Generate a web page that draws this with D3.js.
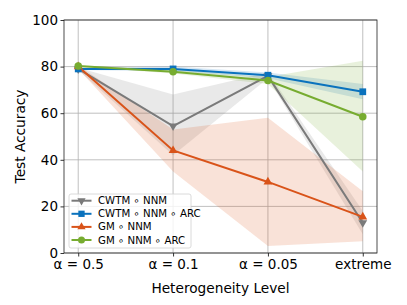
<!DOCTYPE html>
<meta charset="utf-8">
<style>
  body { margin: 0; background: #fff; }
  text { font-family: "DejaVu Sans", sans-serif; fill: #000; }
</style>
<body>
<div id="chart"></div>
<script src="https://cdn.jsdelivr.net/npm/d3@7"></script>
<script>
  const levels = ['α = 0.5', 'α = 0.1', 'α = 0.05', 'extreme'];
  const yTicks = [0, 20, 40, 60, 80, 100];

  const seriesNames = ['CWTM ∘ NNM', 'CWTM ∘ NNM ∘ ARC', 'GM ∘ NNM', 'GM ∘ NNM ∘ ARC'];
  const cwtmMean = [79, 54.5, 76, 13];
  const cwtmLow = [78.5, 42, 75, 8];
  const cwtmHigh = [79.5, 68, 77.5, 18];
  const cwtmArcMean = [79, 79, 76.3, 69.2];
  const cwtmArcLow = [78.5, 78, 75, 66];
  const cwtmArcHigh = [79.5, 80, 77.5, 72.5];
  const gmMean = [80, 44, 30.5, 15.5];
  const gmLow = [79, 35, 3, 5];
  const gmHigh = [80.5, 53, 58, 26.5];
  const gmArcMean = [80.3, 77.8, 74, 58.5];
  const gmArcLow = [80, 77, 72.5, 35];
  const gmArcHigh = [80.6, 78.6, 75.5, 82.5];

  const colors = ['#7a7a7a', '#0a72bd', '#d95319', '#77ac30'];
  const symbols = ['down', 'square', 'triangle', 'circle'];

  const series = [
    { mean: cwtmMean, low: cwtmLow, high: cwtmHigh },
    { mean: cwtmArcMean, low: cwtmArcLow, high: cwtmArcHigh },
    { mean: gmMean, low: gmLow, high: gmHigh },
    { mean: gmArcMean, low: gmArcLow, high: gmArcHigh }
  ].map((s, i) => ({ ...s, name: seriesNames[i], color: colors[i], sym: symbols[i] }));

  const W = 407, H = 305;
  const m = { left: 64, right: 30, top: 20, bottom: 52 };

  const svg = d3.select('#chart').append('svg')
      .attr('width', W).attr('height', H);

  const x = d3.scaleLinear().domain([-0.15, 3.15]).range([m.left, W - m.right]);
  const y = d3.scaleLinear().domain([0, 100]).range([H - m.bottom, m.top]);

  // grid
  const grid = svg.append('g').attr('stroke', '#b0b0b0').attr('stroke-width', 0.8);
  grid.selectAll('.gx').data(levels).enter().append('line')
      .attr('x1', (d, i) => x(i)).attr('x2', (d, i) => x(i))
      .attr('y1', y(0)).attr('y2', y(100));
  grid.selectAll('.gy').data(yTicks).enter().append('line')
      .attr('x1', x(-0.15)).attr('x2', x(3.15))
      .attr('y1', d => y(d)).attr('y2', d => y(d));

  // bands
  const area = d3.area()
      .x(d => x(d.i)).y0(d => y(d.lo)).y1(d => y(d.hi));
  svg.append('g').selectAll('path').data(series).enter().append('path')
      .attr('d', s => area(s.mean.map((v, i) => ({ i, lo: s.low[i], hi: s.high[i] }))))
      .attr('fill', s => s.color).attr('fill-opacity', 0.17);

  // lines
  const line = d3.line().x((d, i) => x(i)).y(d => y(d));
  svg.append('g').selectAll('path').data(series).enter().append('path')
      .attr('d', s => line(s.mean))
      .attr('fill', 'none').attr('stroke', s => s.color).attr('stroke-width', 2);

  function marker(g, sym, color, size) {
    if (sym === 'circle') {
      g.append('circle').attr('r', size * 0.5).attr('fill', color);
    } else if (sym === 'square') {
      g.append('rect').attr('x', -size * 0.45).attr('y', -size * 0.45)
          .attr('width', size * 0.9).attr('height', size * 0.9).attr('fill', color);
    } else {
      const t = d3.symbol().type(d3.symbolTriangle).size(size * size * 0.6)();
      g.append('path').attr('d', t).attr('fill', color)
          .attr('transform', sym === 'down' ? 'rotate(180)' : null);
    }
  }

  series.forEach(s => {
    s.mean.forEach((v, i) => {
      const g = svg.append('g').attr('transform', `translate(${x(i)},${y(v)})`);
      marker(g, s.sym, s.color, 7.5);
    });
  });

  // axes
  const xAxis = svg.append('g').attr('transform', `translate(0,${y(0)})`)
      .call(d3.axisBottom(x).tickValues([0, 1, 2, 3]).tickFormat(i => levels[i])
        .tickSize(3.5).tickPadding(3));
  const yAxis = svg.append('g').attr('transform', `translate(${m.left},0)`)
      .call(d3.axisLeft(y).tickValues(yTicks).tickSize(3.5).tickPadding(2.5));
  [xAxis, yAxis].forEach(a => {
    a.select('.domain').remove();
    a.selectAll('text').attr('font-size', 13.5).attr('font-family', 'DejaVu Sans');
    a.selectAll('line').attr('stroke', '#000').attr('stroke-width', 0.8);
  });

  svg.append('rect')
      .attr('x', x(-0.15)).attr('y', y(100))
      .attr('width', x(3.15) - x(-0.15)).attr('height', y(0) - y(100))
      .attr('fill', 'none').attr('stroke', '#222').attr('stroke-width', 0.8);

  svg.append('text').attr('x', (x(-0.15) + x(3.15)) / 2).attr('y', 293)
      .attr('text-anchor', 'middle').attr('font-size', 13.7).text('Heterogeneity Level');
  svg.append('text')
      .attr('transform', `translate(25,${(y(0) + y(100)) / 2}) rotate(-90)`)
      .attr('text-anchor', 'middle').attr('font-size', 13.7).text('Test Accuracy');

  // legend
  const lg = svg.append('g').attr('transform', 'translate(69,194)');
  lg.append('rect').attr('width', 122).attr('height', 54).attr('rx', 2)
      .attr('fill', '#fff').attr('fill-opacity', 0.8)
      .attr('stroke', '#d0d0d0').attr('stroke-width', 0.8);
  series.forEach((s, i) => {
    const row = lg.append('g').attr('transform', `translate(0,${6.7 + i * 13.1})`);
    row.append('line').attr('x1', 2.5).attr('x2', 22.5).attr('stroke', s.color).attr('stroke-width', 2);
    const mg = row.append('g').attr('transform', 'translate(12.5,0)');
    marker(mg, s.sym, s.color, 7);
    row.append('text').attr('x', 29).attr('dy', '0.35em').attr('font-size', 10.2).text(s.name);
  });
</script>
